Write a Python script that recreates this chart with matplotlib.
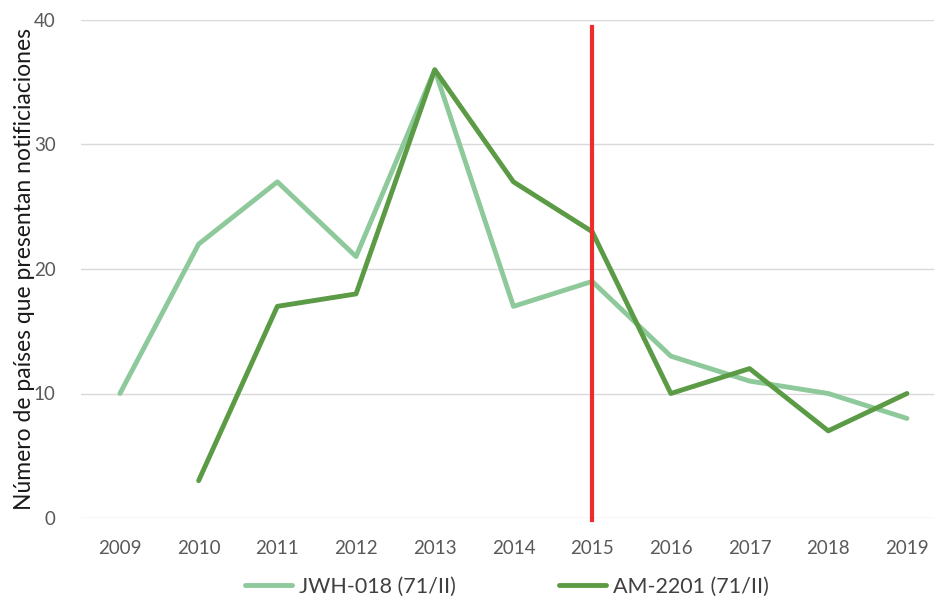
import numpy as np
import matplotlib.pyplot as plt

plt.rcParams['font.family'] = ['Lato', 'DejaVu Sans']

# data
years = ['2009', '2010', '2011', '2012', '2013', '2014', '2015', '2016', '2017', '2018', '2019']
jwh018 = [10, 22, 27, 21, 36, 17, 19, 13, 11, 10, 8]
am2201 = [np.nan, 3, 17, 18, 36, 27, 23, 10, 12, 7, 10]
marker_year = '2015'
marker_span = (-0.15, 39.4)

W, H = 935, 598
fig = plt.figure(figsize=(W / 100, H / 100), dpi=100)
ax = fig.add_axes([80.6 / W, (H - 518) / H, (934.5 - 80.6) / W, (518 - 20) / H])

x = np.arange(len(years))
ax.plot(x, jwh018, color='#8ec99b', lw=3.5, solid_capstyle='round', label='JWH-018 (71/II)')
ax.plot(x, am2201, color='#5b9b45', lw=3.5, solid_capstyle='round', label='AM-2201 (71/II)')

xi = years.index(marker_year)
ax.plot([xi, xi], marker_span, color='#ee2c2c', lw=3, clip_on=False, zorder=5)

ax.set_xlim(-0.5, 10.35)
ax.set_ylim(0, 40)
ax.set_xticks(x)
ax.set_xticklabels(years)
ax.set_yticks([0, 10, 20, 30, 40])
ax.grid(axis='y', color='#d9d9d9', lw=1)
ax.set_axisbelow(True)
for s in ax.spines.values():
    s.set_visible(False)
ax.tick_params(length=0, labelsize=13.5, colors='#595959')
ax.tick_params(axis='x', pad=16)
ax.tick_params(axis='y', pad=18)
ax.set_ylabel('Número de países que presentan notificiaciones', fontsize=16.5,
              color='#1a1a1a', labelpad=-1)

fig.legend(loc='lower center', bbox_to_anchor=(0.542, -0.03), ncol=2, frameon=False,
           fontsize=15.5, handlelength=2.2, handletextpad=0.3, columnspacing=4.8,
           labelcolor='#404040')

fig.savefig('out.png', dpi=100)
